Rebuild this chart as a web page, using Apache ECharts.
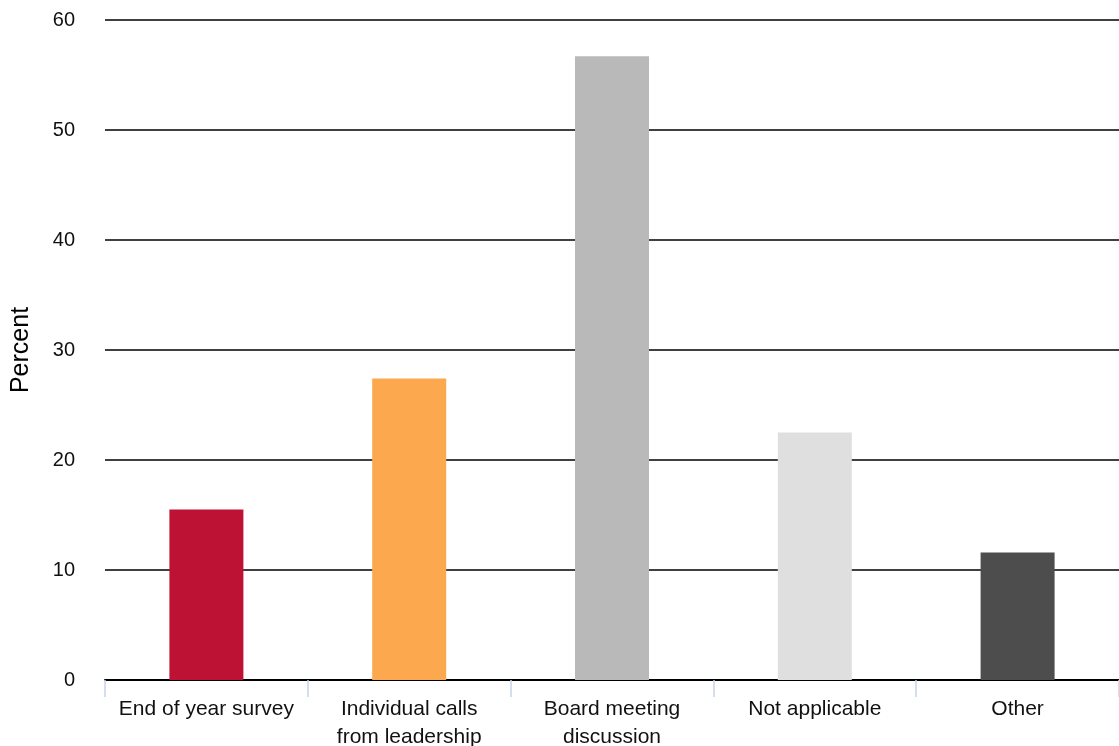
<!DOCTYPE html>
<html>
<head>
<meta charset="utf-8">
<script src="https://cdn.jsdelivr.net/npm/echarts@6/dist/echarts.min.js"></script>
<style>
  html, body { margin: 0; padding: 0; background: #ffffff; }
  #chart { width: 1119px; height: 746px; }
</style>
</head>
<body>
<div id="chart"></div>
<script>
// Response categories and percentages
const categories = ['End of year survey', 'Individual calls\nfrom leadership', 'Board meeting\ndiscussion', 'Not applicable', 'Other'];
const percents = [15.5, 27.4, 56.7, 22.5, 11.6];
const barColors = ['#be1235', '#fba84f', '#b9b9b9', '#dfdfdf', '#4d4d4d'];
const yTicks = [0, 10, 20, 30, 40, 50, 60];

const FONT = 'Liberation Sans, Arial, Helvetica, sans-serif';

const chart = echarts.init(document.getElementById('chart'));
chart.setOption({
  animation: false,
  grid: { left: 105, right: 0, top: 20, bottom: 66, containLabel: false, outerBoundsMode: 'none' },
  xAxis: {
    type: 'category',
    data: categories,
    axisLine: { show: true, lineStyle: { color: '#000000', width: 2 } },
    axisTick: { show: true, length: 17, lineStyle: { color: '#c8d4e8', width: 1.5 } },
    axisLabel: {
      color: '#111111', fontSize: 21, fontFamily: FONT,
      margin: 15, lineHeight: 28, interval: 0
    }
  },
  yAxis: {
    type: 'value',
    min: yTicks[0],
    max: yTicks[yTicks.length - 1],
    interval: 10,
    name: 'Percent',
    nameLocation: 'middle',
    nameGap: 71,
    nameRotate: 90,
    nameTextStyle: { color: '#000000', fontSize: 25, fontFamily: FONT },
    axisLine: { show: false },
    axisTick: { show: false },
    axisLabel: { color: '#111111', fontSize: 20, fontFamily: FONT, margin: 30 },
    splitLine: { lineStyle: { color: '#000000', width: 1.5 } }
  },
  series: [{
    type: 'bar',
    barWidth: 74,
    data: percents.map((v, i) => ({ value: v, itemStyle: { color: barColors[i] } }))
  }]
});
</script>
</body>
</html>
